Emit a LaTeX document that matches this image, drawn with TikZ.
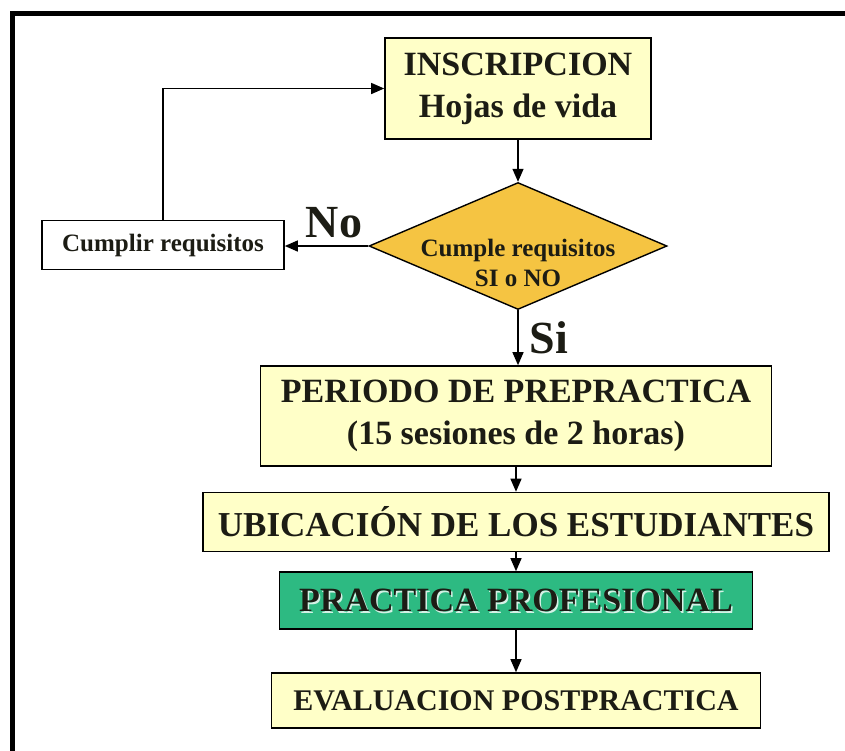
\documentclass[tikz,border=0pt]{standalone}
\usepackage{fontspec}
\setmainfont{Liberation Serif}
\usetikzlibrary{shapes.geometric,arrows.meta,shadows}
\definecolor{boxyellow}{HTML}{FFFFC8}
\definecolor{diamyellow}{HTML}{F5C442}
\definecolor{boxgreen}{HTML}{2DBA82}
\definecolor{inktext}{HTML}{1C1C14}
\tikzset{
  stepbox/.style={draw=black, line width=1.6pt, fill=boxyellow, align=center, inner sep=0pt, text=inktext, font=\bfseries},
  decbox/.style={draw=black, line width=1.4pt, fill=diamyellow, diamond, inner sep=0pt},
  flow/.style={draw=black, line width=1.3pt, -{Triangle[length=13pt,width=11pt]}},
  biglbl/.style={font=\bfseries\fontsize{46}{46}\selectfont, text=inktext, inner sep=0pt}
}
\begin{document}
\begin{tikzpicture}[x=1pt,y=-1pt]
\useasboundingbox (0,0) rectangle (845,750);
\begin{scope}
\clip (0,0) rectangle (845,750);
\draw[line width=5pt] (12,760) -- (12,13) -- (860,13);
\end{scope}
% nodes
\node[stepbox, minimum width=266pt, minimum height=101pt, font=\bfseries\fontsize{34}{42}\selectfont] (insc) at (518,88.5) {INSCRIPCION\\Hojas de vida};
\node[decbox, minimum width=298pt, minimum height=127pt] (diam) at (518,246) {};
\node[align=center, font=\bfseries\fontsize{25}{30}\selectfont, text=inktext, inner sep=0pt] (diamtext) at (518,263) {Cumple requisitos\\SI o NO};
\node[stepbox, fill=white, minimum width=242pt, minimum height=49pt, font=\bfseries\fontsize{25}{30}\selectfont] (cumplir) at (163,245) {Cumplir requisitos};
\node[stepbox, minimum width=511pt, minimum height=100pt, font=\bfseries\fontsize{34}{42}\selectfont] (periodo) at (516,416) {PERIODO DE PREPRACTICA\\(15 sesiones de 2 horas)};
\node[stepbox, minimum width=626pt, minimum height=59pt, font=\bfseries\fontsize{35}{42}\selectfont] (ubic) at (516,522) {UBICACIÓN DE LOS ESTUDIANTES};
\node[stepbox, fill=boxgreen, minimum width=473pt, minimum height=57pt, font=\bfseries\fontsize{34}{42}\selectfont] (prac) at (516,600.5) {};
\node[font=\bfseries\fontsize{34}{42}\selectfont, text=white!80!boxgreen, inner sep=0pt] at ([xshift=1.5pt,yshift=-1.5pt]prac.center) {PRACTICA PROFESIONAL};
\node[font=\bfseries\fontsize{34}{42}\selectfont, text=inktext, inner sep=0pt] (practext) at (prac.center) {PRACTICA PROFESIONAL};
\node[stepbox, minimum width=489pt, minimum height=55pt, font=\bfseries\fontsize{30}{36}\selectfont] (eval) at (516,700.5) {EVALUACION POSTPRACTICA};
\node[biglbl] (no) at (334,223) {No};
\node[biglbl] (si) at (549,338) {Si};
% connectors
\draw[flow] (insc.south) -- (diam.north);
\draw[flow] (diam.west) -- (cumplir.east |- diam.west);
\draw[flow] (cumplir.north) |- (insc.west);
\draw[flow] (diam.south) -- (diam.south |- periodo.north);
\draw[flow] (periodo.south) -- (ubic.north);
\draw[flow] (ubic.south) -- (prac.north);
\draw[flow] (prac.south) -- (eval.north);
\end{tikzpicture}
\end{document}
